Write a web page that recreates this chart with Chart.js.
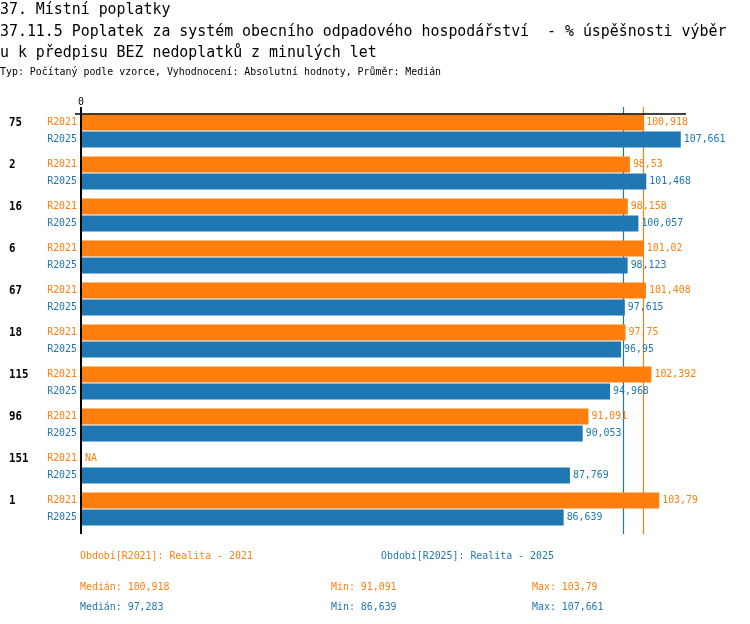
<!DOCTYPE html>
<html>
<head>
<meta charset="utf-8">
<script src="https://cdn.jsdelivr.net/npm/chart.js@4.4.1/dist/chart.umd.min.js"></script>
<style>
  body { margin: 0; background: #fff; }
  #wrap { position: relative; width: 750px; height: 624px; overflow: hidden; font-family: 'DejaVu Sans Mono', monospace; }
  #chart { position: absolute; left: 0; top: 0; }
  .t { position: absolute; white-space: pre; color: #000; transform-origin: left center; }
  .big { font-size: 15px; line-height: 20px; transform: scaleX(0.993); }
  .small { font-size: 11px; line-height: 14px; transform: scaleX(0.9); }
  .or { color: #ff7f0e; }
  .bl { color: #1f77b4; }
</style>
</head>
<body>
<div id="wrap">
  <canvas id="chart" width="750" height="624"></canvas>
  <div class="t big" style="left:0;top:-1px">37. Místní poplatky</div>
  <div class="t big" style="left:0;top:21px">37.11.5 Poplatek za systém obecního odpadového hospodářství  - % úspěšnosti výběr</div>
  <div class="t big" style="left:0;top:42px">u k předpisu BEZ nedoplatků z minulých let</div>
  <div class="t small" style="left:0;top:65px">Typ: Počítaný podle vzorce, Vyhodnocení: Absolutní hodnoty, Průměr: Medián</div>
  <div id="footer"></div>
</div>
<script>
// data
const groups = ['75', '2', '16', '6', '67', '18', '115', '96', '151', '1'];
const seriesNames = ['R2021', 'R2025'];
const periodTitles = ['Období[R2021]: Realita - 2021', 'Období[R2025]: Realita - 2025'];
const r2021 = [100.918, 98.53, 98.158, 101.02, 101.408, 97.75, 102.392, 91.091, null, 103.79];
const r2025 = [107.661, 101.468, 100.057, 98.123, 97.615, 96.95, 94.968, 90.053, 87.769, 86.639];
const colors = ['#ff7f0e', '#1f77b4'];
const xMax = 108.6;

function fmt(v) {
    var r = Math.round(v * 1000 + 1e-6) / 1000;
    return String(r).replace('.', ',');
}

function median(arr) {
    var s = arr.filter(v => v !== null).sort((a, b) => a - b);
    var m = Math.floor(s.length / 2);
    return s.length % 2 ? s[m] : (s[m - 1] + s[m]) / 2;
}

const allSeries = [r2021, r2025];
const medians = allSeries.map(median);

// footer with period names and stats
var footer = document.getElementById('footer');
var html = '';
html += '<div class="t small or" style="left:80px;top:549px">' + periodTitles[0] + '</div>';
html += '<div class="t small bl" style="left:381px;top:549px">' + periodTitles[1] + '</div>';
allSeries.forEach((s, i) => {
    var vals = s.filter(v => v !== null);
    var top = i === 0 ? 580 : 600;
    var cls = i === 0 ? 'or' : 'bl';
    html += '<div class="t small ' + cls + '" style="left:80px;top:' + top + 'px">Medián: ' + fmt(medians[i]) + '</div>';
    html += '<div class="t small ' + cls + '" style="left:331px;top:' + top + 'px">Min: ' + fmt(Math.min(...vals)) + '</div>';
    html += '<div class="t small ' + cls + '" style="left:532px;top:' + top + 'px">Max: ' + fmt(Math.max(...vals)) + '</div>';
});
footer.innerHTML = html;

const AXIS_TOP = 107, AXIS_BOTTOM = 534, LINE_Y = 114;

// narrow text like the original's condensed font
function label(ctx, str, x, y, align) {
    ctx.save();
    ctx.translate(x, y);
    ctx.scale(0.9, 1);
    ctx.textAlign = align;
    ctx.textBaseline = 'middle';
    ctx.fillText(str, 0, 0);
    ctx.restore();
}

const extras = {
    id: 'extras',
    beforeDatasetsDraw(chart) {
        const ctx = chart.ctx;
        const x = chart.scales.x;
        ctx.save();
        ctx.lineWidth = 1.2;
        medians.forEach((m, i) => {
            var px = Math.round(x.getPixelForValue(m)) + 0.5;
            ctx.strokeStyle = colors[i];
            ctx.beginPath();
            ctx.moveTo(px, AXIS_TOP);
            ctx.lineTo(px, AXIS_BOTTOM);
            ctx.stroke();
        });
        ctx.restore();
    },
    afterDatasetsDraw(chart) {
        const ctx = chart.ctx;
        const x = chart.scales.x;
        const y = chart.scales.y;
        const x0 = x.getPixelForValue(0);
        ctx.save();

        // axes
        ctx.strokeStyle = '#000';
        ctx.lineWidth = 1.5;
        ctx.beginPath();
        ctx.moveTo(x0 - 6, LINE_Y);
        ctx.lineTo(x.right, LINE_Y);
        ctx.stroke();
        ctx.lineWidth = 2;
        ctx.beginPath();
        ctx.moveTo(x0, AXIS_TOP);
        ctx.lineTo(x0, AXIS_BOTTOM);
        ctx.stroke();

        ctx.font = '11px "DejaVu Sans Mono"';
        ctx.fillStyle = '#000';
        label(ctx, '0', x0, 102, 'center');

        groups.forEach((g, i) => {
            var c = y.getPixelForValue(i);
            var rows = [c - 8.5, c + 8.5];
            ctx.font = 'bold 12px "DejaVu Sans Mono"';
            ctx.fillStyle = '#000';
            label(ctx, g, 9, rows[0], 'left');
            allSeries.forEach((s, k) => {
                var el = chart.getDatasetMeta(k).data[i];
                var cy = el && isFinite(el.y) ? el.y : rows[k];
                ctx.font = '11px "DejaVu Sans Mono"';
                ctx.fillStyle = colors[k];
                label(ctx, seriesNames[k], x0 - 4, cy, 'right');
                if (s[i] === null) {
                    label(ctx, 'NA', x0 + 4, cy, 'left');
                } else {
                    label(ctx, fmt(s[i]), x.getPixelForValue(s[i]) + 3, cy, 'left');
                }
            });
        });
        ctx.restore();
    }
};

new Chart(document.getElementById('chart'), {
    type: 'bar',
    data: {
        labels: groups,
        datasets: allSeries.map((s, k) => ({
            label: seriesNames[k],
            data: s,
            backgroundColor: colors[k],
            borderWidth: 0,
            categoryPercentage: 0.81,
            barPercentage: 0.94
        }))
    },
    options: {
        indexAxis: 'y',
        responsive: false,
        animation: false,
        layout: { padding: { left: 81, right: 64, top: 110, bottom: 94 } },
        scales: {
            x: { display: false, min: 0, max: xMax },
            y: { display: false }
        },
        plugins: {
            legend: { display: false },
            tooltip: { enabled: false }
        }
    },
    plugins: [extras]
});
</script>
</body>
</html>
